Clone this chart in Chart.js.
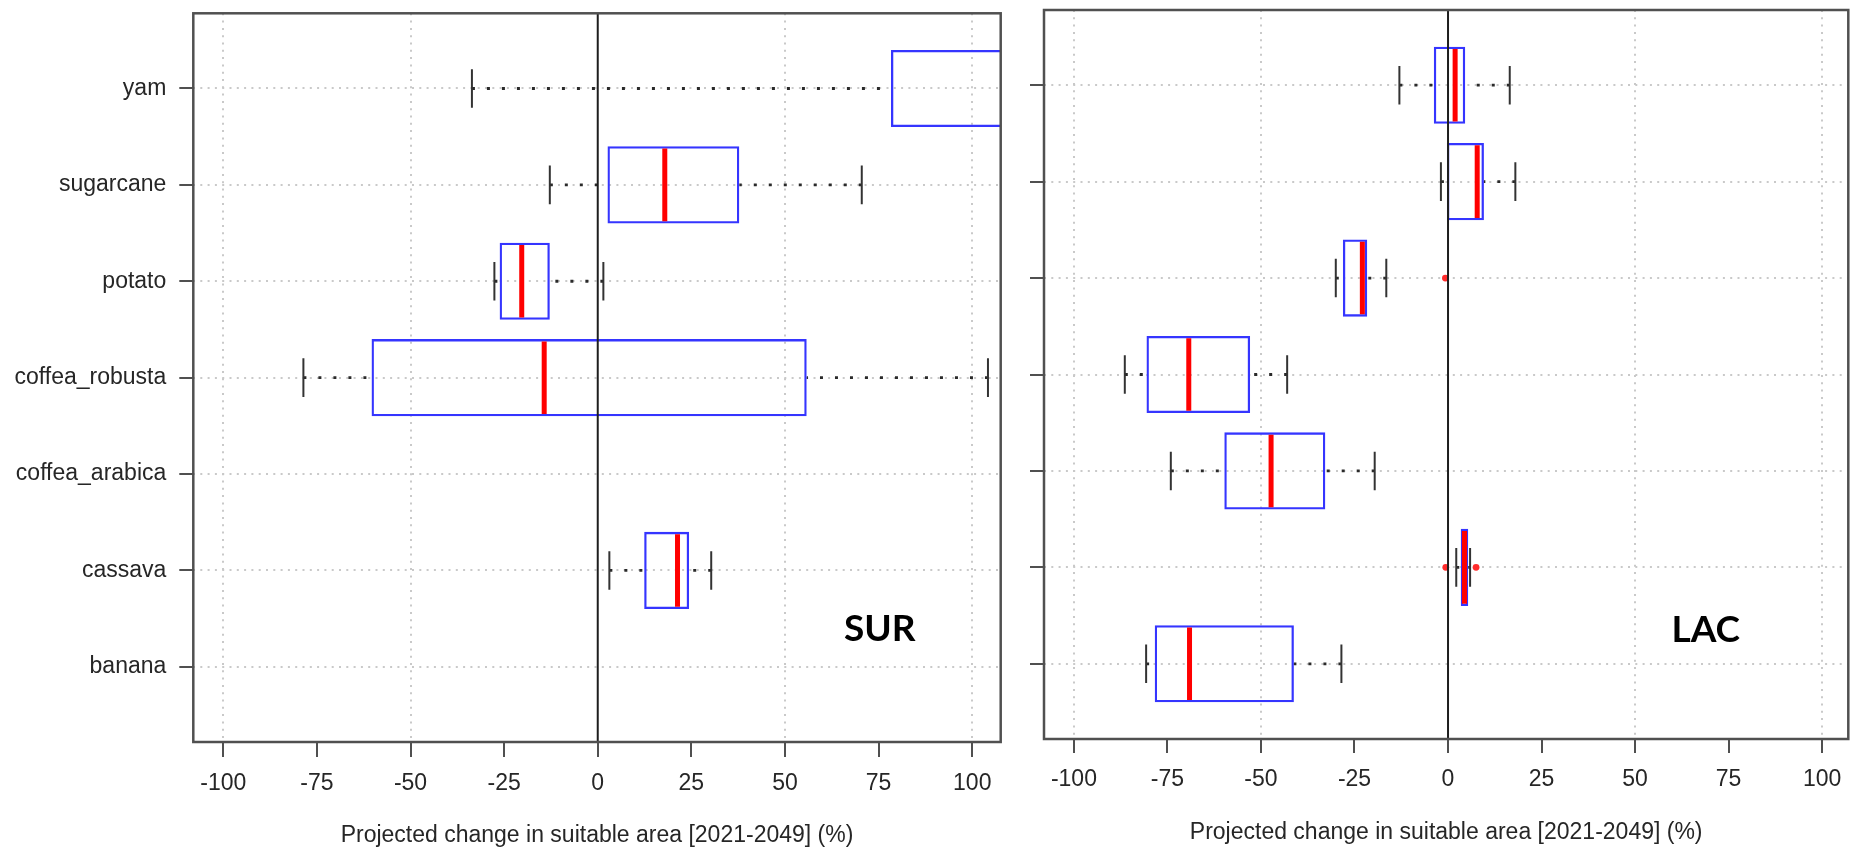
<!DOCTYPE html>
<html>
<head>
<meta charset="utf-8">
<title>Projected change in suitable area, SUR and LAC</title>
<script src="https://cdn.jsdelivr.net/npm/chart.js@4.4.0/dist/chart.umd.min.js"></script>
<style>
  html, body { margin: 0; padding: 0; background: #ffffff; }
  body { width: 1852px; height: 852px; position: relative; overflow: hidden; }
  .panel { position: absolute; top: 0; height: 852px; }
  #panelSUR { left: 0; width: 1010px; }
  #panelLAC { left: 1010px; width: 842px; }
</style>
</head>
<body>
<div class="panel" id="panelSUR"><canvas id="chartSUR"></canvas></div>
<div class="panel" id="panelLAC"><canvas id="chartLAC"></canvas></div>
<script>
// Crops along the category axis, from bottom to top
const crops = ['banana', 'cassava', 'coffea_arabica', 'coffea_robusta', 'potato', 'sugarcane', 'yam'];
const xTicks = [-100, -75, -50, -25, 0, 25, 50, 75, 100];
const axisTitle = 'Projected change in suitable area [2021-2049] (%)';

// Suriname: whisker ends, quartiles and medians per crop (null = not modelled)
const surLow    = [null, 3.1, null, -78.6, -27.6, -12.8, -33.6];
const surQ1     = [null, 12.4, null, -60.4, -26.2, 2.6, 78.3];
const surMedian = [null, 21.3, null, -14.3, -20.3, 17.9, 122];
const surQ3     = [null, 24.4, null, 55.8, -12.8, 37.8, 155];
const surHigh   = [null, 30.3, null, 104.2, 1.5, 70.5, 195];
const surOutliers = [];

// Latin America and the Caribbean
const lacLow    = [-80.7, 2.2, -74.1, -86.4, -30.0, -1.9, -13.0];
const lacQ1     = [-78.4, 3.4, -59.8, -80.6, -28.1, -0.3, -3.8];
const lacMedian = [-69.1, 4.4, -47.3, -69.3, -22.9, 7.8, 1.9];
const lacQ3     = [-41.2, 5.4, -32.8, -52.9, -21.6, 9.6, 4.6];
const lacHigh   = [-28.5, 5.9, -19.6, -43.0, -16.5, 18.0, 16.5];
const lacOutliers = [
  { crop: 'potato', value: -0.7 },
  { crop: 'cassava', value: -0.6 },
  { crop: 'cassava', value: 7.5 }
];

const BOX_HALF = 0.4;      // half box height, in category units
const STAPLE_HALF = 0.2;   // half whisker-cap height
const BOX_BORDER = 2.3;
const AXIS_FONT = { family: '"Liberation Sans", Arial, sans-serif', size: 23 };
const FRAME_COLOR = '#505050';
const GRID_COLOR = '#c9c9c9';

// Whiskers, caps, medians, zero line, frame and region tag, all placed through the chart scales
const boxplotExtras = {
  id: 'boxplotExtras',
  beforeDatasetsDraw(chart, args, opts) {
    const { ctx, chartArea: a, scales: { x, y } } = chart;
    const s = opts.stats;
    ctx.save();
    ctx.beginPath();
    ctx.rect(a.left, a.top, a.right - a.left, a.bottom - a.top);
    ctx.clip();
    s.q1.forEach((q1, i) => {
      if (q1 == null) return;
      const yc = y.getPixelForValue(i + 1);
      const yh = Math.abs(y.getPixelForValue(i + 1 + STAPLE_HALF) - yc);
      ctx.lineCap = 'butt';
      ctx.strokeStyle = '#2a2a2a';
      ctx.lineWidth = 2.8;
      ctx.setLineDash([3, 12]);
      ctx.beginPath();
      ctx.moveTo(x.getPixelForValue(s.low[i]), yc);
      ctx.lineTo(x.getPixelForValue(q1), yc);
      ctx.stroke();
      ctx.beginPath();
      ctx.moveTo(x.getPixelForValue(s.high[i]), yc);
      ctx.lineTo(x.getPixelForValue(s.q3[i]), yc);
      ctx.stroke();
      ctx.setLineDash([]);
      ctx.strokeStyle = '#333333';
      ctx.lineWidth = 2;
      ctx.beginPath();
      [s.low[i], s.high[i]].forEach(v => {
        const px = x.getPixelForValue(v);
        ctx.moveTo(px, yc - yh);
        ctx.lineTo(px, yc + yh);
      });
      ctx.stroke();
    });
    ctx.restore();
  },
  afterDatasetsDraw(chart, args, opts) {
    const { ctx, chartArea: a, scales: { x, y } } = chart;
    const s = opts.stats;
    ctx.save();
    ctx.beginPath();
    ctx.rect(a.left, a.top, a.right - a.left, a.bottom - a.top);
    ctx.clip();
    // medians
    ctx.strokeStyle = '#ff0000';
    ctx.lineWidth = 5;
    ctx.lineCap = 'butt';
    s.median.forEach((m, i) => {
      if (m == null) return;
      const yc = y.getPixelForValue(i + 1);
      const yh = Math.abs(y.getPixelForValue(i + 1 + BOX_HALF) - yc) - BOX_BORDER;
      const px = x.getPixelForValue(m);
      ctx.beginPath();
      ctx.moveTo(px, yc - yh);
      ctx.lineTo(px, yc + yh);
      ctx.stroke();
    });
    // reference line at zero change
    const x0 = x.getPixelForValue(0);
    ctx.strokeStyle = '#1e1e1e';
    ctx.lineWidth = 2;
    ctx.beginPath();
    ctx.moveTo(x0, a.top);
    ctx.lineTo(x0, a.bottom);
    ctx.stroke();
    ctx.restore();

    // region tag
    ctx.save();
    ctx.fillStyle = '#000000';
    ctx.font = 'bold 37px Lato, "Open Sans", sans-serif';
    ctx.textAlign = 'center';
    ctx.textBaseline = 'middle';
    ctx.fillText(opts.region, x.getPixelForValue(opts.tagAt[0]), y.getPixelForValue(opts.tagAt[1]));
    ctx.restore();
  },
  afterDraw(chart) {
    const { ctx, chartArea: a } = chart;
    ctx.save();
    ctx.strokeStyle = FRAME_COLOR;
    ctx.lineWidth = 2.5;
    ctx.strokeRect(a.left, a.top, a.right - a.left, a.bottom - a.top);
    ctx.restore();
  }
};

function makePanel(canvasId, stats, outliers, region, layout) {
  const boxes = [];
  stats.q1.forEach((q1, i) => {
    if (q1 != null) boxes.push({ y: i + 1, x: [q1, stats.q3[i]] });
  });
  const points = outliers.map(o => ({ x: o.value, y: crops.indexOf(o.crop) + 1 }));

  return new Chart(document.getElementById(canvasId), {
    type: 'bar',
    data: {
      datasets: [
        {
          type: 'bar',
          indexAxis: 'y',
          data: boxes,
          backgroundColor: 'rgba(0,0,0,0)',
          borderColor: '#3535ff',
          borderWidth: BOX_BORDER,
          borderSkipped: false,
          categoryPercentage: 1,
          barPercentage: BOX_HALF * 2
        },
        {
          type: 'scatter',
          data: points,
          pointRadius: 3.4,
          pointHoverRadius: 3.4,
          backgroundColor: '#ff2b2b',
          borderWidth: 0
        }
      ]
    },
    options: {
      responsive: true,
      maintainAspectRatio: false,
      animation: false,
      events: [],
      layout: { padding: layout.padding },
      plugins: {
        legend: { display: false },
        tooltip: { enabled: false },
        boxplotExtras: { stats, region, tagAt: layout.tagAt }
      },
      scales: {
        x: {
          type: 'linear',
          position: 'bottom',
          offset: false,
          min: -108,
          max: layout.xMax,
          afterBuildTicks: s => { s.ticks = xTicks.map(v => ({ value: v })); },
          afterFit: s => {
            s.height = layout.xAxisHeight;
            s.paddingLeft = 0;
            s.paddingRight = 0;
          },
          grid: {
            offset: false,
            color: c => (c.tick && c.tick.value % 50 === 0 && c.tick.value !== 0) ? GRID_COLOR : 'rgba(0,0,0,0)',
            lineWidth: 2,
            drawTicks: true,
            tickLength: layout.xTickLength,
            tickWidth: 2,
            tickColor: FRAME_COLOR,
            tickBorderDash: []
          },
          border: { display: false, dash: [2, 5.3] },
          ticks: {
            autoSkip: false,
            maxRotation: 0,
            padding: 13,
            color: '#262626',
            font: AXIS_FONT,
            callback: v => String(v)
          },
          title: {
            display: true,
            text: axisTitle,
            color: '#262626',
            font: AXIS_FONT,
            padding: { top: 0, bottom: layout.titleBottom }
          }
        },
        y: {
          type: 'linear',
          position: 'left',
          offset: false,
          min: 0.22,
          max: 7.78,
          afterBuildTicks: s => { s.ticks = crops.map((_, i) => ({ value: i + 1 })); },
          afterFit: s => {
            s.width = layout.yAxisWidth;
            s.paddingTop = 0;
            s.paddingBottom = 0;
          },
          grid: {
            offset: false,
            color: GRID_COLOR,
            lineWidth: 2,
            drawTicks: true,
            tickLength: 14,
            tickWidth: 2,
            tickColor: FRAME_COLOR,
            tickBorderDash: []
          },
          border: { display: false, dash: [2, 5.3] },
          ticks: {
            autoSkip: false,
            padding: 13,
            color: '#262626',
            font: AXIS_FONT,
            callback: v => layout.showCropNames ? crops[Math.round(v) - 1] : ''
          }
        }
      }
    },
    plugins: [boxplotExtras]
  });
}

function build() {
  makePanel('chartSUR',
    { low: surLow, q1: surQ1, median: surMedian, q3: surQ3, high: surHigh },
    surOutliers, 'SUR',
    { padding: { left: 0, right: 9.3, top: 13.3, bottom: 0 }, yAxisWidth: 193.3, xAxisHeight: 110,
      xMax: 107.6, xTickLength: 15, titleBottom: 2.5, showCropNames: true, tagAt: [75.3, 1.39] });

  makePanel('chartLAC',
    { low: lacLow, q1: lacQ1, median: lacMedian, q3: lacQ3, high: lacHigh },
    lacOutliers, 'LAC',
    { padding: { left: 0, right: 3.7, top: 10, bottom: 0 }, yAxisWidth: 34, xAxisHeight: 113,
      xMax: 107, xTickLength: 14, titleBottom: 5.2, showCropNames: false, tagAt: [68.9, 1.35] });
}

Promise.all([
  document.fonts.load('23px "Liberation Sans"'),
  document.fonts.load('bold 37px Lato')
]).catch(() => {}).then(build);
</script>
</body>
</html>
